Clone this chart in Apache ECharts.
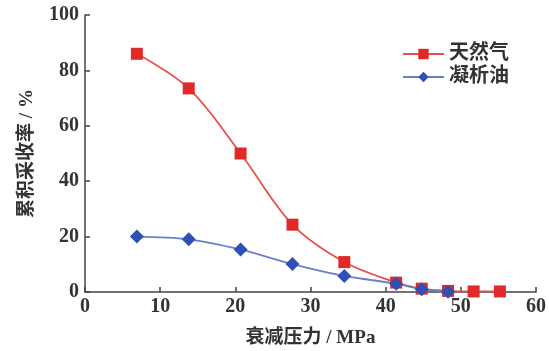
<!DOCTYPE html>
<html><head><meta charset="utf-8">
<script src="https://cdn.jsdelivr.net/npm/echarts@6/dist/echarts.min.js"></script>
<style>html,body{margin:0;padding:0;background:#fff}#c{width:549px;height:351px}</style>
</head><body><div id="c"></div>
<script>
const gasPressure = [6.9, 13.8, 20.7, 27.6, 34.5, 41.4, 44.8, 48.3, 51.7, 55.2];
const gasRecovery = [86.0, 73.5, 50.0, 24.3, 10.8, 3.4, 1.2, 0.4, 0.2, 0.2];
const oilPressure = [6.9, 13.8, 20.7, 27.6, 34.5, 41.4, 44.8, 48.3];
const oilRecovery = [20.0, 19.0, 15.3, 10.1, 5.8, 3.0, 1.0, 0.1];
const seriesNames = ['天然气', '凝析油'];
const xName = '衰减压力 / MPa';
const yName = '累积采收率 / %';

const chart = echarts.init(document.getElementById('c'));
const numFont = {fontFamily: 'Liberation Serif', fontSize: 20, fontWeight: 'bold', color: '#333'};
const cjkFont = {fontFamily: 'Liberation Serif, Noto Sans CJK SC', fontSize: 19, fontWeight: 'bold', color: '#333'};
chart.setOption({
  animation: false,
  grid: {left: 85, right: 13, top: 15, bottom: 59, containLabel: false, outerBoundsMode: 'none'},
  legend: {
    left: 397, top: 39, orient: 'vertical', itemGap: 3,
    itemWidth: 41, itemHeight: 13,
    textStyle: Object.assign({}, cjkFont, {fontSize: 20}),
    data: seriesNames
  },
  xAxis: {
    type: 'value', min: 0, max: 60, interval: 10,
    name: xName, nameLocation: 'middle', nameGap: 37,
    nameTextStyle: cjkFont,
    axisLine: {lineStyle: {color: '#444', width: 1.5}},
    axisTick: {inside: true, length: 5, lineStyle: {color: '#444', width: 1.5}},
    axisLabel: Object.assign({margin: 5}, numFont),
    splitLine: {show: false}
  },
  yAxis: {
    type: 'value', min: 0, max: 100, interval: 20,
    name: yName, nameLocation: 'middle', nameGap: 48, nameRotate: 90,
    nameTextStyle: cjkFont,
    axisLine: {show: true, lineStyle: {color: '#444', width: 1.5}},
    axisTick: {show: true, inside: true, length: 5, lineStyle: {color: '#444', width: 1.5}},
    axisLabel: Object.assign({margin: 6}, numFont),
    splitLine: {show: false}
  },
  series: [
    {
      name: seriesNames[0], type: 'line', smooth: 0.35,
      data: gasPressure.map((x, i) => [x, gasRecovery[i]]),
      symbol: 'rect', symbolSize: 12,
      lineStyle: {color: '#e5524c', width: 1.8},
      itemStyle: {color: '#e02a2a'}
    },
    {
      name: seriesNames[1], type: 'line', smooth: 0.35,
      data: oilPressure.map((x, i) => [x, oilRecovery[i]]),
      symbol: 'diamond', symbolSize: [14, 14],
      lineStyle: {color: '#6a7fc8', width: 1.8},
      itemStyle: {color: '#2e4fb5'}
    }
  ]
});
</script></body></html>
